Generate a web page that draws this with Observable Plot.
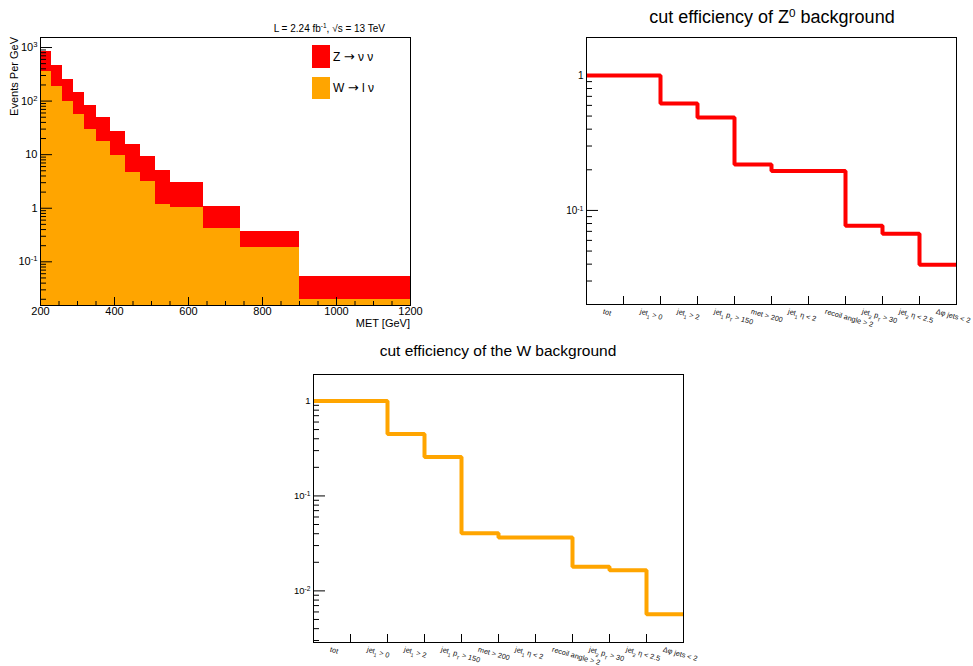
<!DOCTYPE html>
<html><head><meta charset="utf-8">
<script src="https://cdn.jsdelivr.net/npm/d3@7"></script>
<script src="https://cdn.jsdelivr.net/npm/@observablehq/plot@0.6"></script>
<style>
body{margin:0;background:#fff;width:973px;height:666px;position:relative;overflow:hidden;font-family:"Liberation Sans",Arial,Helvetica,sans-serif;color:#000;}
.abs{position:absolute;white-space:nowrap;}
svg{overflow:visible}
sup{font-size:65%;vertical-align:0.55em;line-height:0}
.arr{font-family:"DejaVu Sans",sans-serif;font-size:13px;}
</style></head><body>
<div id="p1" class="abs" style="left:0;top:0"></div>
<div id="p2" class="abs" style="left:540px;top:0"></div>
<div id="p3" class="abs" style="left:270px;top:340px"></div>

<div class="abs" style="right:588px;top:23px;font-size:10px;line-height:12px">L = 2.24 fb<sup>-1</sup>, √s = 13 TeV</div>
<div class="abs" style="left:0;top:0;font-size:11px;line-height:13px;transform-origin:0 0;transform:translate(7.5px,37px) rotate(-90deg) translateX(-100%)">Events Per GeV</div>
<div class="abs" style="right:563px;top:316px;font-size:11px;line-height:14px">MET [GeV]</div>
<div class="abs" style="left:312px;top:45px;width:18px;height:23px;background:#ff0000"></div>
<div class="abs" style="left:312px;top:77px;width:18px;height:22px;background:#ffa500"></div>
<div class="abs" style="left:333px;top:50px;font-size:12px;line-height:14px">Z <span class="arr">→</span> ν ν</div>
<div class="abs" style="left:333px;top:81px;font-size:12px;line-height:14px">W <span class="arr">→</span> l ν</div>
<div class="abs" style="left:772px;top:6px;transform:translateX(-50%);font-size:18px;line-height:22px">cut efficiency of Z<sup>0</sup> background</div>
<div class="abs" style="left:498px;top:342px;transform:translateX(-50%);font-size:15.5px;line-height:18px">cut efficiency of the W background</div>

<script>
// ---------- data ----------
const metEdges = [200, 230, 260, 290, 320, 350, 390, 430, 470, 510, 550, 640, 740, 900, 1200];
const wValues = [357, 185, 97, 55.6, 29.7, 17.5, 9.6, 4.6, 3.2, 1.19, 1.03, 0.41, 0.185, 0.0199];
const zValues = [485, 270, 156, 89.4, 54.3, 31.4, 18.0, 11.2, 6.2, 3.77, 1.94, 0.69, 0.182, 0.0334];

const cutLabels = ["tot", "jet_{1} > 0", "jet_{1} > 2", "jet_{1} p_{T} > 150", "met > 200",
  "jet_{1} η < 2", "recoil angle > 2", "jet_{2} p_{T} > 30", "jet_{2} η < 2.5", "Δφ jets < 2"];
const zEff = [1, 1, 0.62, 0.489, 0.219, 0.196, 0.196, 0.0769, 0.0672, 0.0396];
const wEff = [1, 1, 0.45, 0.257, 0.0405, 0.0364, 0.0364, 0.0179, 0.0165, 0.00568];

const histXTicks = [200, 400, 600, 800, 1000, 1200];
const histXLabels = ["200", "400", "600", "800", "1000", "1200"];
const histYTicks = [0.1, 1, 10, 100, 1000];
const histYLabels = ["10^{-1}", "1", "10", "10^{2}", "10^{3}"];
const zYTicks = [0.1, 1];
const zYLabels = ["10^{-1}", "1"];
const wYTicks = [0.01, 0.1, 1];
const wYLabels = ["10^{-2}", "10^{-1}", "1"];

// ---------- helpers ----------
const FONT = '"Liberation Sans", Arial, Helvetica, sans-serif';
function minorLog(lo, hi) {
  const out = [];
  for (let e = Math.floor(Math.log10(lo)); e <= Math.ceil(Math.log10(hi)); e++)
    for (let k = 2; k <= 9; k++) { const v = k * Math.pow(10, e); if (v > lo && v < hi) out.push(v); }
  return out;
}
function richify(svg) {
  svg.querySelectorAll("text").forEach(t => {
    const s = t.textContent;
    if (!/[_^]\{/.test(s)) return;
    while (t.firstChild) t.removeChild(t.firstChild);
    const re = /([_^])\{([^}]*)\}/g;
    let last = 0, m;
    const add = (str, kind) => {
      const ts = document.createElementNS("http://www.w3.org/2000/svg", "tspan");
      ts.textContent = str;
      if (kind) { ts.setAttribute("font-size", "70%"); ts.setAttribute("baseline-shift", kind === "^" ? "super" : "sub"); }
      t.appendChild(ts);
    };
    while ((m = re.exec(s))) { if (m.index > last) add(s.slice(last, m.index)); add(m[2], m[1]); last = re.lastIndex; }
    if (last < s.length) add(s.slice(last));
  });
}

// ---------- histogram ----------
{
  const W = 430, H = 335, mL = 40, mR = 20, mT = 37, mB = 30;
  const fw = W - mL - mR, fh = H - mT - mB;
  const yMin = 0.0153, yMax = 1538;
  const hist = metEdges.slice(0, -1).map((x1, i) => ({x1, x2: metEdges[i + 1], w: wValues[i], top: wValues[i] + zValues[i]}));
  const xMinor = d3.range(250, 1200, 50).filter(v => !histXTicks.includes(v));
  const p = Plot.plot({
    width: W, height: H, marginLeft: mL, marginRight: mR, marginTop: mT, marginBottom: mB,
    style: {fontFamily: FONT, background: "transparent", overflow: "visible"},
    x: {domain: [200, 1200], axis: null},
    y: {type: "log", domain: [yMin, yMax], axis: null},
    marks: [
      Plot.rect(hist, {x1: "x1", x2: "x2", y1: "w", y2: "top", fill: "#ff0000", shapeRendering: "crispEdges"}),
      Plot.rect(hist, {x1: "x1", x2: "x2", y1: () => yMin, y2: "w", fill: "#ffa500", shapeRendering: "crispEdges"}),
      Plot.tickY(histYTicks, {y: d => d, insetRight: fw - 12, stroke: "#000"}),
      Plot.tickY(minorLog(yMin, yMax), {y: d => d, insetRight: fw - 6, stroke: "#000"}),
      Plot.tickX(histXTicks, {x: d => d, insetTop: fh - 8, stroke: "#000"}),
      Plot.tickX(xMinor, {x: d => d, insetTop: fh - 4, stroke: "#000"}),
      Plot.text(histYTicks, {y: d => d, text: (d, i) => histYLabels[i], frameAnchor: "left", textAnchor: "end", dx: -3, fontSize: 11}),
      Plot.text(histXTicks, {x: d => d, text: (d, i) => histXLabels[i], frameAnchor: "bottom", lineAnchor: "top", dy: 2, fontSize: 11}),
      Plot.frame({stroke: "#000"})
    ]
  });
  richify(p);
  document.getElementById("p1").appendChild(p);
}

// ---------- efficiency plots ----------
function effPlot(el, eff, color, yDom, yTicks, yLabels, dims, labelFs) {
  const {W, H, mL, mR, mT, mB} = dims;
  const fw = W - mL - mR, fh = H - mT - mB;
  const n = eff.length;
  const step = [...eff.map((v, i) => ({x: i, v})), {x: n, v: eff[n - 1]}];
  const p = Plot.plot({
    width: W, height: H, marginLeft: mL, marginRight: mR, marginTop: mT, marginBottom: mB,
    style: {fontFamily: FONT, background: "transparent", overflow: "visible"},
    x: {domain: [0, n], axis: null},
    y: {type: "log", domain: yDom, axis: null},
    marks: [
      Plot.tickY(yTicks, {y: d => d, insetRight: fw - 12, stroke: "#000"}),
      Plot.tickY(minorLog(yDom[0], yDom[1]), {y: d => d, insetRight: fw - 6, stroke: "#000"}),
      Plot.tickX(d3.range(1, n), {x: d => d, insetTop: fh - 8, stroke: "#000"}),
      Plot.line(step, {x: "x", y: "v", curve: "step-after", stroke: color, strokeWidth: 4, strokeLinejoin: "miter", strokeLinecap: "butt"}),
      Plot.text(yTicks, {y: d => d, text: (d, i) => yLabels[i], frameAnchor: "left", textAnchor: "end", dx: -3, fontSize: labelFs}),
      Plot.text(cutLabels, {x: (d, i) => i + 0.5, text: d => d, frameAnchor: "bottom", textAnchor: "start", lineAnchor: "top", dy: 4, dx: -1, rotate: 16, fontSize: 7.3, fill: "#111"}),
      Plot.frame({stroke: "#000"})
    ]
  });
  richify(p);
  document.getElementById(el).appendChild(p);
}
effPlot("p2", zEff, "#ff0000", [0.0201, 1.91], zYTicks, zYLabels, {W: 433, H: 335, mL: 46, mR: 17, mT: 37, mB: 31}, 10);
effPlot("p3", wEff, "#ffa500", [0.00286, 1.9], wYTicks, wYLabels, {W: 433, H: 326, mL: 43, mR: 20, mT: 34, mB: 24}, 9.5);
</script>
</body></html>
